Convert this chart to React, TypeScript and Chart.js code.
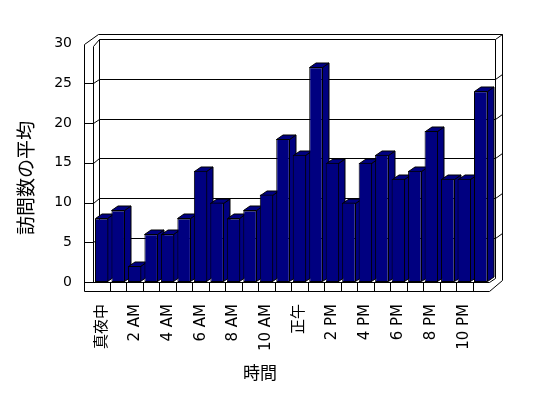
import React, { useEffect, useRef } from 'react';
import { Chart, registerables } from 'chart.js';

Chart.register(...registerables);

const hours: string[] = [
  '真夜中', '1 AM', '2 AM', '3 AM', '4 AM', '5 AM', '6 AM', '7 AM', '8 AM', '9 AM', '10 AM', '11 AM',
  '正午', '1 PM', '2 PM', '3 PM', '4 PM', '5 PM', '6 PM', '7 PM', '8 PM', '9 PM', '10 PM', '11 PM',
];
const visits: number[] = [8, 9, 2, 6, 6, 8, 14, 10, 8, 9, 11, 18, 16, 27, 15, 10, 15, 16, 13, 14, 19, 13, 13, 24];
const yMax = 30;
const yStep = 5;
const yTitle = '訪問数の平均';
const xTitle = '時間';

const NAVY = '#000080';
const DX = 6.5;
const DY = 4.5;
const FONT = '"DejaVu Sans ExtraLight", "DejaVu Sans", "Noto Sans CJK JP"';
const c = (v: number) => Math.round(v) + 0.5;

const frame3d = {
  id: 'frame3d',
  beforeDatasetsDraw(chart: any) {
    const { ctx, chartArea: ca, scales } = chart;
    const x = scales.x;
    const y = scales.y;
    const yF = (v: number) => y.getPixelForValue(v);
    const yB = (v: number) => yF(v) - DY;
    const fl = ca.left - 9.2;
    const wi = ca.left - 0.2;
    const bl = ca.left + 5.5;
    const br = ca.right + 6;
    const or = ca.right + 12.7;
    const top0 = yF(yMax);
    const base = yF(0);
    const fb = base + 9;
    const fr = ca.right + 0.3;
    ctx.save();
    ctx.strokeStyle = '#000';
    ctx.lineWidth = 1;
    const line = (pts: number[][]) => {
      ctx.beginPath();
      pts.forEach(([a, b], i) => (i ? ctx.lineTo(c(a), c(b)) : ctx.moveTo(c(a), c(b))));
      ctx.stroke();
    };
    line([[fl, fb], [fl, top0 + 0.5], [fl + 13.7, top0 - 9.5], [or, top0 - 9.5], [or, base - 2], [fr, fb], [fl, fb]]);
    line([[wi, base], [wi, top0 + 2.8], [bl, yB(yMax)], [br, yB(yMax)], [or, top0 - 9.5]]);
    line([[bl, yB(yMax)], [bl, yB(0)]]);
    line([[br, yB(yMax)], [br, yB(0)], [fr, base]]);
    for (let v = yStep; v < yMax; v += yStep) {
      line([[fl, yF(v)], [wi, yF(v)], [bl, yB(v)], [br, yB(v)], [or, yB(v) - 5]]);
    }
    line([[fl, base], [fr, base]]);
    const cw = x.getPixelForValue(1) - x.getPixelForValue(0);
    for (let i = 0; i < hours.length - 1; i++) {
      const sx = x.getPixelForValue(i) + cw / 2;
      line([[sx, base], [sx, fb]]);
    }
    const meta = chart.getDatasetMeta(0);
    ctx.fillStyle = NAVY;
    meta.data.forEach((bar: any) => {
      const p = bar.getProps(['x', 'y', 'base', 'width'], true);
      const l = Math.round(p.x - p.width / 2) + 0.5;
      const r = Math.round(p.x + p.width / 2) - 0.5;
      const t = Math.round(p.y) + 0.5;
      const b = Math.round(p.base) - 0.5;
      ctx.beginPath();
      ctx.moveTo(r, t);
      ctx.lineTo(r + DX, t - DY);
      ctx.lineTo(r + DX, b - DY);
      ctx.lineTo(r, b);
      ctx.closePath();
      ctx.fill();
      ctx.stroke();
      ctx.beginPath();
      ctx.moveTo(l, t);
      ctx.lineTo(l + DX, t - DY);
      ctx.lineTo(r + DX, t - DY);
      ctx.lineTo(r, t);
      ctx.closePath();
      ctx.fill();
      ctx.stroke();
    });
    ctx.restore();
  },
  afterDraw(chart: any) {
    const { ctx } = chart;
    ctx.save();
    ctx.fillStyle = '#000';
    ctx.textAlign = 'center';
    ctx.textBaseline = 'middle';
    ctx.font = '17px "Noto Sans CJK JP"';
    ctx.fillText(xTitle, 260, 373);
    ctx.translate(26, 178);
    ctx.rotate(-Math.PI / 2);
    ctx.font = '19px "Noto Sans CJK JP"';
    ctx.fillText(yTitle, 0, 0);
    ctx.restore();
  },
};

export default function App() {
  const ref = useRef<HTMLCanvasElement | null>(null);
  useEffect(() => {
    document.body.style.margin = '0';
    const canvas = ref.current;
    if (!canvas) return;
    const chart = new Chart(canvas, {
      type: 'bar',
      data: {
        labels: hours,
        datasets: [
          {
            data: visits,
            backgroundColor: NAVY,
            borderColor: '#000',
            borderWidth: 1,
            borderSkipped: false,
            barPercentage: 0.82,
            categoryPercentage: 1,
          },
        ],
      },
      options: {
        responsive: false,
        animation: false,
        devicePixelRatio: 1,
        layout: { padding: { top: 43.5, right: 59, left: 0, bottom: 0 } },
        plugins: { legend: { display: false }, tooltip: { enabled: false } },
        scales: {
          x: {
            grid: { display: false, drawTicks: false },
            border: { display: false },
            afterFit: (s: any) => { s.height = 116; },
            ticks: {
              autoSkip: false,
              maxRotation: 90,
              minRotation: 90,
              padding: 22,
              color: '#000',
              font: { family: FONT, size: 15 },
              callback: (_v: any, i: number) => (i % 2 === 0 ? hours[i] : ''),
            },
          },
          y: {
            min: 0,
            max: yMax,
            grid: { display: false, drawTicks: false },
            border: { display: false },
            afterFit: (s: any) => { s.width = 93.5; },
            ticks: {
              stepSize: yStep,
              padding: 21.5,
              color: '#000',
              font: { family: FONT, size: 14 },
            },
          },
        },
      },
      plugins: [frame3d],
    });
    return () => chart.destroy();
  }, []);
  return (
    <div style={{ width: 548, height: 398 }}>
      <canvas ref={ref} width={548} height={398} />
    </div>
  );
}
